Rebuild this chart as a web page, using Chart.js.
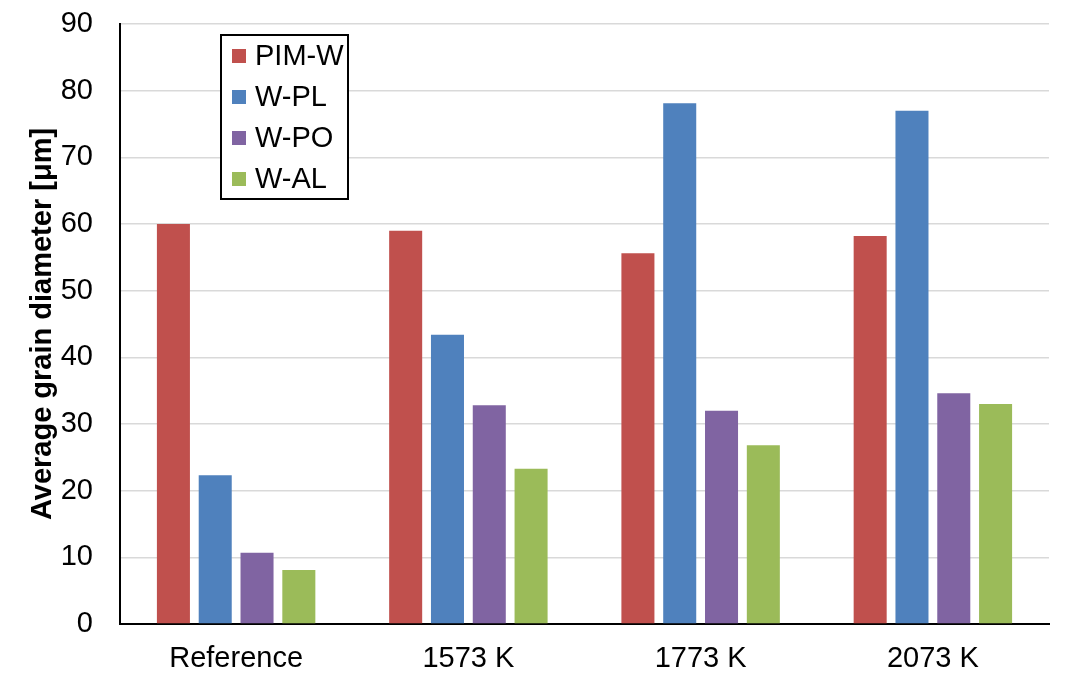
<!DOCTYPE html>
<html>
<head>
<meta charset="utf-8">
<script src="https://cdn.jsdelivr.net/npm/chart.js@4"></script>
<style>
html,body{margin:0;padding:0;background:#fff;}
#wrap{width:1066px;height:683px;}
</style>
</head>
<body>
<div id="wrap"><canvas id="c" width="1066" height="683"></canvas></div>
<script>
const categories = ["Reference", "1573 K", "1773 K", "2073 K"];
const seriesNames = ["PIM-W", "W-PL", "W-PO", "W-AL"];
const pimW = [60.0, 59.0, 55.6, 58.2];
const wPL = [22.3, 43.4, 78.1, 77.0];
const wPO = [10.7, 32.8, 32.0, 34.6];
const wAL = [8.1, 23.3, 26.8, 33.0];
const yTicks = [0, 10, 20, 30, 40, 50, 60, 70, 80, 90];
const colors = ["#C0504D", "#4F81BD", "#8064A2", "#9BBB59"];
const yTitle = "Average grain diameter [μm]";

const FONT = "'Liberation Sans', Arial, sans-serif";

const legendBox = {
  id: 'legendBox',
  afterDraw(chart) {
    const ctx = chart.ctx;
    const ca = chart.chartArea;
    const x0 = ca.left + 101, y0 = ca.top + 11, w = 127, h = 164;
    ctx.save();
    ctx.fillStyle = '#fff';
    ctx.fillRect(x0, y0, w, h);
    ctx.strokeStyle = '#000';
    ctx.lineWidth = 2;
    ctx.strokeRect(x0, y0, w, h);
    ctx.font = "29px " + FONT;
    ctx.textBaseline = 'middle';
    chart.data.datasets.forEach((ds, i) => {
      const cy = y0 + 21 + i * 41;
      ctx.fillStyle = ds.backgroundColor;
      ctx.fillRect(x0 + 11, cy - 7, 14, 14);
      ctx.fillStyle = '#000';
      ctx.fillText(ds.label, x0 + 34, cy + 1);
    });
    ctx.restore();
  }
};

new Chart(document.getElementById('c'), {
  type: 'bar',
  data: {
    labels: categories,
    datasets: [pimW, wPL, wPO, wAL].map((d, i) => ({
      label: seriesNames[i],
      data: d,
      backgroundColor: colors[i],
      borderWidth: 0,
      categoryPercentage: 0.72,
      barPercentage: 0.79
    }))
  },
  options: {
    responsive: false,
    animation: false,
    devicePixelRatio: 1,
    layout: { padding: { top: 24, right: 17, bottom: 0, left: 0 } },
    plugins: { legend: { display: false }, tooltip: { enabled: false } },
    scales: {
      x: {
        grid: { display: false, drawTicks: false },
        border: { display: true, color: '#000', width: 2 },
        ticks: { color: '#000', font: { family: FONT, size: 29 }, padding: 18, maxRotation: 0 },
        afterFit(s) { s.height = 59; }
      },
      y: {
        min: 0, max: 90,
        afterBuildTicks(s) { s.ticks = yTicks.map(v => ({ value: v })); },
        grid: { color: '#d9d9d9', lineWidth: 1.5, drawTicks: false },
        border: { display: true, color: '#000', width: 2 },
        ticks: { color: '#000', font: { family: FONT, size: 29 }, padding: 27 },
        title: { display: true, text: yTitle, color: '#000', font: { family: FONT, size: 29, weight: 'bold' }, padding: { top: 26, bottom: 0 } },
        afterFit(s) { s.width = 120; s.paddingTop = 0; s.paddingBottom = 0; }
      }
    }
  },
  plugins: [legendBox]
});
</script>
</body>
</html>
